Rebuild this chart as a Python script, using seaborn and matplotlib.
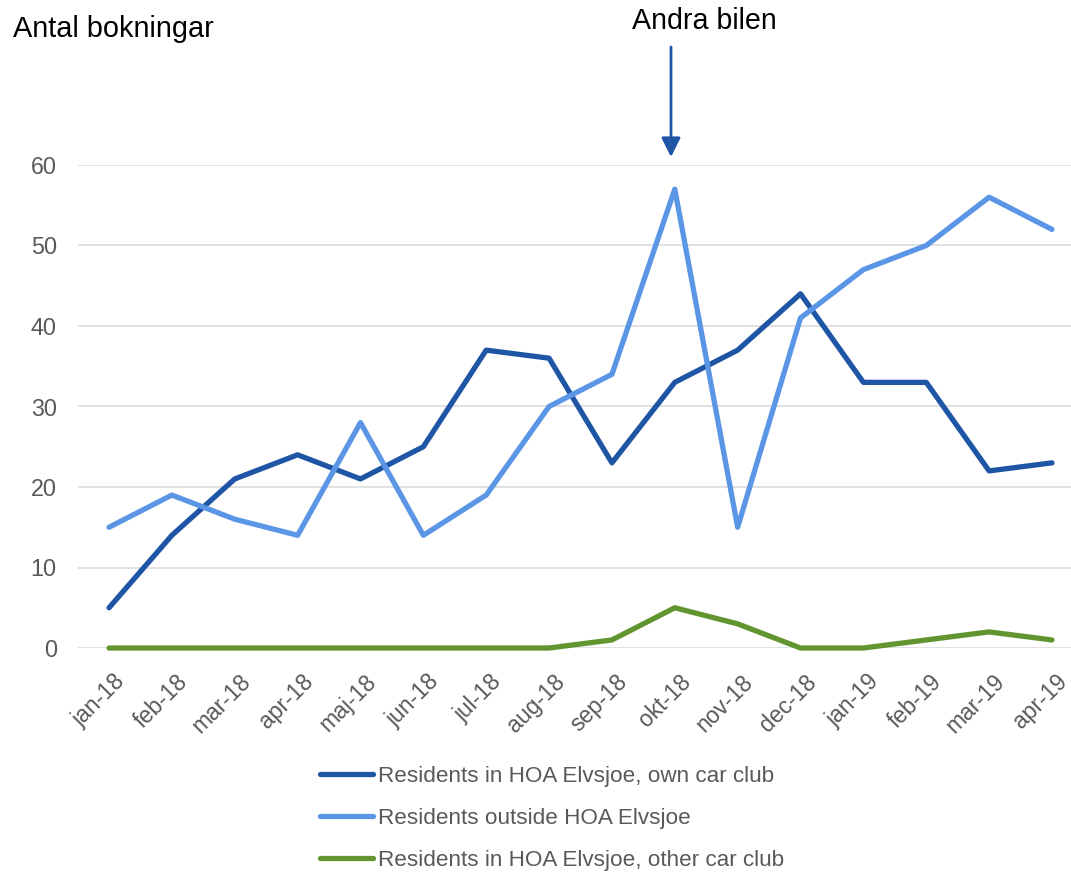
import matplotlib
matplotlib.use("Agg")
import matplotlib.pyplot as plt
import matplotlib.transforms as mtransforms
import seaborn as sns
import pandas as pd
import numpy as np

# Data
months = ["jan-18", "feb-18", "mar-18", "apr-18", "maj-18", "jun-18", "jul-18", "aug-18",
          "sep-18", "okt-18", "nov-18", "dec-18", "jan-19", "feb-19", "mar-19", "apr-19"]
own_club = [5, 14, 21, 24, 21, 25, 37, 36, 23, 33, 37, 44, 33, 33, 22, 23]
outside = [15, 19, 16, 14, 28, 14, 19, 30, 34, 57, 15, 41, 47, 50, 56, 52]
other_club = [0, 0, 0, 0, 0, 0, 0, 0, 1, 5, 3, 0, 0, 1, 2, 1]

series_names = ["Residents in HOA Elvsjoe, own car club",
                "Residents outside HOA Elvsjoe",
                "Residents in HOA Elvsjoe, other car club"]
series_colors = ["#1F55A5", "#5A95E6", "#62952F"]

df = pd.concat([
    pd.DataFrame({"idx": np.arange(len(months)), "value": vals, "series": name})
    for name, vals in zip(series_names, [own_club, outside, other_club])
])

sns.set_style("white")
plt.rcParams["font.family"] = ["Liberation Sans", "DejaVu Sans"]

W, H = 1071, 872
fig = plt.figure(figsize=(W / 100, H / 100), dpi=100)
ax = fig.add_axes([77.6 / W, 1 - 648 / H, (1083.4 - 77.6) / W, (648 - 165) / H])

sns.lineplot(data=df, x="idx", y="value", hue="series", hue_order=series_names,
             palette=series_colors, linewidth=3.8, legend=False, ax=ax)
for ln in ax.get_lines():
    ln.set_solid_capstyle("round")
    ln.set_solid_joinstyle("round")
    ln.set_clip_on(False)

ax.set_xlim(-0.5, len(months) - 0.5)
ax.set_ylim(0, 60)
ax.set_yticks([0, 10, 20, 30, 40, 50, 60])
ax.yaxis.grid(True, color="#D9D9D9", linewidth=1.1)
ax.set_axisbelow(True)
for s in ax.spines.values():
    s.set_visible(False)
ax.set_xlabel("")
ax.set_ylabel("")

ax.set_xticks(np.arange(len(months)))
ax.set_xticklabels(months, rotation=45, ha="right", va="top", rotation_mode="anchor")
ax.tick_params(axis="x", length=0, pad=16, labelsize=16.5, labelcolor="#595959")
ax.tick_params(axis="y", length=0, pad=15, labelsize=16.8, labelcolor="#595959")
offset = mtransforms.ScaledTranslation(4 / 100, 0, fig.dpi_scale_trans)
for lab in ax.get_xticklabels():
    lab.set_transform(lab.get_transform() + offset)

handles = ax.get_lines()[:3]
leg = ax.legend(handles, series_names, loc="upper left",
                bbox_to_anchor=(320 / W, 1 - 766 / H), bbox_transform=fig.transFigure,
                frameon=False, fontsize=16.2, handlelength=2.35, handletextpad=0.22,
                labelspacing=0.93, borderpad=0, borderaxespad=0)
for t in leg.get_texts():
    t.set_color("#595959")

fig.text(13 / W, 1 - 37 / H, "Antal bokningar", fontsize=20.8, color="black",
         ha="left", va="baseline")
fig.text(704.5 / W, 1 - 29 / H, "Andra bilen", fontsize=20.6, color="black",
         ha="center", va="baseline")
ax.annotate("", xy=(671 / W, 1 - 157 / H), xytext=(671 / W, 1 - 47 / H),
            xycoords="figure fraction", textcoords="figure fraction",
            arrowprops=dict(arrowstyle="-|>", color="#1F55A5", lw=2,
                            mutation_scale=29, shrinkA=0, shrinkB=0))

fig.savefig("out.png", dpi=100)
